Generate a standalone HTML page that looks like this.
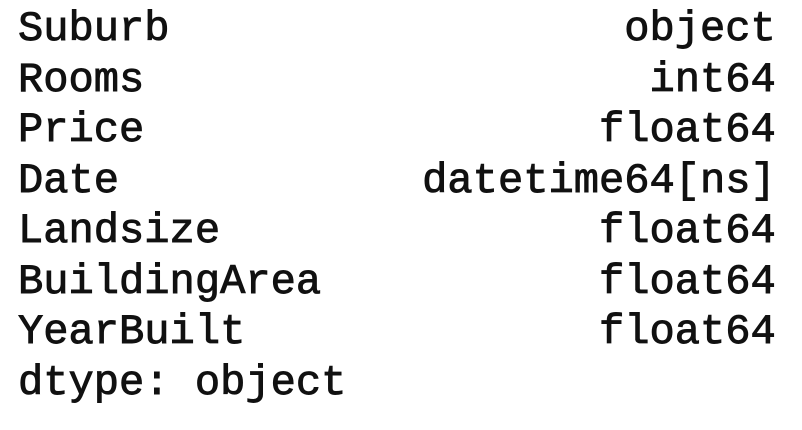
<!DOCTYPE html>
<html><head><style>
html,body{margin:0;padding:0;background:#fff;width:802px;height:430px;overflow:hidden}
pre{position:absolute;left:18px;top:4px;margin:0;font-family:"Liberation Mono",monospace;font-size:42.1px;line-height:50.5px;font-weight:normal;-webkit-text-stroke:0.9px #111;color:#111}
</style></head><body>
<pre>Suburb                  object
Rooms                    int64
Price                  float64
Date            datetime64[ns]
Landsize               float64
BuildingArea           float64
YearBuilt              float64
dtype: object</pre>
</body></html>
